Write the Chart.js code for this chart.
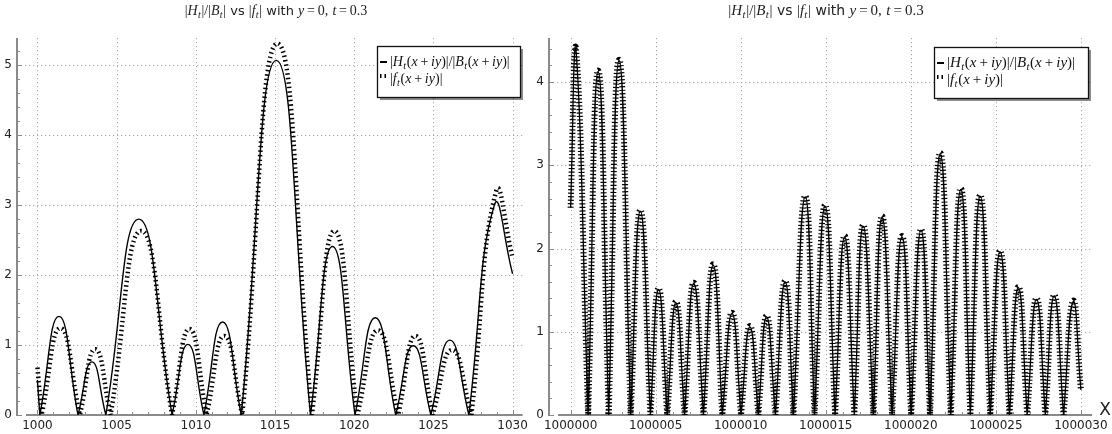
<!DOCTYPE html>
<html>
<head>
<meta charset="utf-8">
<script src="https://cdn.jsdelivr.net/npm/chart.js@4.4.1/dist/chart.umd.min.js"></script>
<style>
  html, body { margin: 0; padding: 0; background: #fff; }
  #wrap { position: relative; width: 1112px; height: 434px; background: #fff; overflow: hidden; }
  .pane { position: absolute; top: 0; height: 434px; }
</style>
</head>
<body>
<div id="wrap">
  <div class="pane" style="left:0;width:532px"><canvas id="c1"></canvas></div>
  <div class="pane" style="left:532px;width:580px"><canvas id="c2"></canvas></div>
</div>
<script>
// ---------- data ----------
// Left panel: x = 1000 .. 1030 (zeros are value 0)
const leftXH = [1000.0, 1000.15, 1001.36, 1002.56, 1003.44, 1004.32, 1006.40, 1008.50, 1009.50, 1010.51, 1011.69, 1012.87, 1015.08, 1017.24, 1018.63, 1020.05, 1021.33, 1022.62, 1023.73, 1024.84, 1026.04, 1027.24, 1028.85, 1030.0];
const leftH  = [0.50, 0, 1.41, 0, 0.76, 0, 2.80, 0, 1.01, 0, 1.33, 0, 5.07, 0, 2.41, 0, 1.39, 0, 0.99, 0, 1.07, 0, 3.00, 2.02];
const leftXF = [1000.0, 1000.26, 1001.45, 1002.68, 1003.65, 1004.62, 1006.55, 1008.50, 1009.60, 1010.68, 1011.80, 1012.93, 1015.15, 1017.33, 1018.75, 1020.20, 1021.50, 1022.78, 1023.87, 1024.95, 1026.18, 1027.40, 1028.95, 1030.0];
const leftF  = [0.68, 0, 1.24, 0, 0.94, 0, 2.63, 0, 1.23, 0, 1.13, 0, 5.31, 0, 2.63, 0, 1.21, 0, 1.13, 0, 0.93, 0, 3.19, 2.25];

// Right panel: x = 1000000 .. 1000030
const rightX = [1000000.0, 1000000.31, 1000001.03, 1000001.62, 1000002.24, 1000002.85, 1000003.53, 1000004.10, 1000004.69, 1000005.17, 1000005.68, 1000006.19, 1000006.70, 1000007.24, 1000007.81, 1000008.38, 1000008.92, 1000009.49, 1000010.02, 1000010.54, 1000011.04, 1000011.52, 1000012.04, 1000012.61, 1000013.10, 1000013.79, 1000014.34, 1000014.96, 1000015.55, 1000016.11, 1000016.68, 1000017.20, 1000017.80, 1000018.31, 1000018.90, 1000019.48, 1000020.02, 1000020.60, 1000021.13, 1000021.73, 1000022.35, 1000022.94, 1000023.50, 1000024.08, 1000024.67, 1000025.25, 1000025.80, 1000026.32, 1000026.84, 1000027.39, 1000027.91, 1000028.43, 1000028.98, 1000029.54, 1000030.0];
const rightH = [2.49, 4.40, 0, 4.13, 0, 4.26, 0, 2.45, 0, 1.51, 0, 1.35, 0, 1.58, 0, 1.80, 0, 1.22, 0, 1.06, 0, 1.18, 0, 1.60, 0, 2.62, 0, 2.51, 0, 2.14, 0, 2.27, 0, 2.38, 0, 2.14, 0, 2.22, 0, 3.14, 0, 2.71, 0, 2.63, 0, 1.96, 0, 1.53, 0, 1.39, 0, 1.43, 0, 1.36, 0.30];
const rightF = [2.49, 4.42, 0, 4.14, 0, 4.27, 0, 2.46, 0, 1.52, 0, 1.36, 0, 1.59, 0, 1.81, 0, 1.23, 0, 1.07, 0, 1.19, 0, 1.61, 0, 2.63, 0, 2.52, 0, 2.15, 0, 2.28, 0, 2.39, 0, 2.15, 0, 2.23, 0, 3.15, 0, 2.72, 0, 2.64, 0, 1.97, 0, 1.54, 0, 1.40, 0, 1.44, 0, 1.37, 0.30];

// Tick labels
const leftXTicks  = [1000, 1005, 1010, 1015, 1020, 1025, 1030];
const leftYTicks  = [0, 1, 2, 3, 4, 5];
const rightXTicks = [1000000, 1000005, 1000010, 1000015, 1000020, 1000025, 1000030];
const rightYTicks = [0, 1, 2, 3, 4];

const titleText = '$|H_t|/|B_t|$ vs $|f_t|$ with $y\u2009=\u20090,$ $t\u2009=\u20090.3$';
const legendH = '$|H_t(x\u2009+\u2009iy)|/|B_t(x\u2009+\u2009iy)|$';
const legendF = '$|f_t(x\u2009+\u2009iy)|$';

// ---------- helpers ----------
function pts(xs, ys) {
  const out = [];
  xs.forEach((x, i) => {
    out.push({ x: x, y: ys[i] });
    if (ys[i] === 0) out.push({ x: x, y: 0 }); // repeat zero so the curve keeps its sharp V there
  });
  return out;
}

function parseRich(str) {
  const runs = [];
  let math = false;
  const push = (t, s) => {
    const last = runs[runs.length - 1];
    if (last && last.s === s && s !== 'sub') last.t += t; else runs.push({ t, s });
  };
  for (let i = 0; i < str.length; i++) {
    const c = str[i];
    if (c === '$') { math = !math; continue; }
    if (!math) { push(c, 'sans'); continue; }
    if (c === '_') { push(str[++i], 'sub'); continue; }
    if (/[A-Za-z]/.test(c)) push(c, 'it'); else push(c, 'up');
  }
  return runs;
}
function fontFor(s, size) {
  if (s === 'sans') return (size * 0.93) + 'px "DejaVu Sans"';
  if (s === 'it') return 'italic ' + size + 'px "Liberation Serif"';
  if (s === 'sub') return 'italic ' + (size * 0.72) + 'px "Liberation Serif"';
  return size + 'px "Liberation Serif"';
}
function drawRich(ctx, str, x, y, size, align) {
  const runs = parseRich(str);
  let w = 0;
  runs.forEach(r => {
    ctx.font = fontFor(r.s, size);
    r.w = ctx.measureText(r.t).width + (r.s === 'sub' ? 1 : 0);
    w += r.w;
  });
  let cx = align === 'center' ? x - w / 2 : x;
  ctx.textBaseline = 'alphabetic';
  ctx.textAlign = 'left';
  runs.forEach(r => {
    ctx.font = fontFor(r.s, size);
    ctx.fillText(r.t, cx + (r.s === 'sub' ? 0.3 : 0), y + (r.s === 'sub' ? size * 0.2 : 0));
    cx += r.w;
  });
  return w;
}

function makeChart(id, cfg) {
  const plugin = {
    id: 'sageDecor',
    beforeDatasetsDraw(chart) {
      const { ctx, chartArea: a, scales: { x, y } } = chart;
      const line = (x1, y1, x2, y2) => { ctx.beginPath(); ctx.moveTo(x1, y1); ctx.lineTo(x2, y2); ctx.stroke(); };
      ctx.save();
      // dotted grid
      ctx.strokeStyle = '#a8a8a8'; ctx.lineWidth = 1; ctx.setLineDash([1.2, 2.8]);
      cfg.xTicks.forEach(v => { const p = Math.round(x.getPixelForValue(v)) + 0.5; line(p, a.top, p, a.bottom); });
      cfg.yTicks.forEach(v => { if (v === 0) return; const p = Math.round(y.getPixelForValue(v)) + 0.5; line(a.left, p, a.right, p); });
      ctx.setLineDash([]);
      // axes
      ctx.strokeStyle = '#8a8a8a'; ctx.lineWidth = 2;
      line(a.left, a.top, a.left, a.bottom + 1);
      line(a.left + 9, a.bottom, a.right, a.bottom);
      // inward ticks
      ctx.lineWidth = 1; ctx.strokeStyle = '#8a8a8a';
      const x0 = cfg.xTicks[0], x1 = cfg.xTicks[cfg.xTicks.length - 1];
      for (let v = x0; v <= x1; v += 1) {
        const p = Math.round(x.getPixelForValue(v)) + 0.5;
        const len = ((v - x0) % 5 === 0) ? 5 : 3;
        line(p, a.bottom, p, a.bottom - len);
      }
      for (let k = 0; k * 0.2 <= y.max + 1e-9; k++) {
        const p = Math.round(y.getPixelForValue(k * 0.2)) + 0.5;
        const len = (k % 5 === 0) ? 5 : 3;
        line(a.left, p, a.left + len, p);
      }
      ctx.restore();
    },
    afterDraw(chart) {
      const { ctx } = chart;
      ctx.save();
      // title
      ctx.fillStyle = '#222';
      drawRich(ctx, titleText, cfg.titleX, 15, cfg.titleSize, 'center');
      // legend box
      const L = cfg.legend;
      ctx.fillStyle = 'rgba(0,0,0,0.45)';
      ctx.fillRect(L.x + 3, L.y + 3, L.w, L.h);
      ctx.fillStyle = '#fff';
      ctx.fillRect(L.x, L.y, L.w, L.h);
      ctx.strokeStyle = '#111'; ctx.lineWidth = 1.3;
      ctx.strokeRect(L.x + 0.5, L.y + 0.5, L.w, L.h);
      // samples
      ctx.strokeStyle = '#000';
      ctx.lineWidth = 2; ctx.setLineDash([]);
      ctx.beginPath(); ctx.moveTo(L.x + 3, L.r1 - 4); ctx.lineTo(L.x + 10, L.r1 - 4); ctx.stroke();
      ctx.lineWidth = 4; ctx.setLineDash([1.5, 3]); ctx.lineCap = 'butt';
      ctx.beginPath(); ctx.moveTo(L.x + 3, L.r2 - 7); ctx.lineTo(L.x + 10, L.r2 - 7); ctx.stroke();
      ctx.setLineDash([]);
      ctx.fillStyle = '#111';
      drawRich(ctx, legendH, L.x + 13, L.r1, cfg.legendSize, 'left');
      drawRich(ctx, legendF, L.x + 13, L.r2, cfg.legendSize, 'left');
      // axis letter
      if (cfg.xLetter) {
        ctx.font = '17px "DejaVu Sans"'; ctx.fillStyle = '#222';
        ctx.textAlign = 'center'; ctx.textBaseline = 'middle';
        ctx.fillText(cfg.xLetter.t, cfg.xLetter.x, cfg.xLetter.y);
      }
      ctx.restore();
    }
  };

  return new Chart(document.getElementById(id), {
    type: 'line',
    data: {
      datasets: [
        { label: 'H/B', data: pts(cfg.xH, cfg.H), borderColor: '#000', borderWidth: cfg.solidW,
          pointRadius: 0, fill: false, tension: 0.5 },
        { label: 'f', data: pts(cfg.xF, cfg.F), borderColor: '#000', borderWidth: cfg.dotW,
          borderDash: cfg.dotDash, borderCapStyle: 'butt', pointRadius: 0, fill: false, tension: 0.5 }
      ]
    },
    options: {
      responsive: true, maintainAspectRatio: false, animation: false, devicePixelRatio: 1,
      layout: { padding: { top: 38, right: cfg.padRight, left: 0, bottom: 0 } },
      plugins: { legend: { display: false }, title: { display: false }, tooltip: { enabled: false } },
      scales: {
        x: {
          type: 'linear', min: cfg.xMin, max: cfg.xMax,
          grid: { display: false, drawTicks: false }, border: { display: false },
          afterBuildTicks: s => { s.ticks = cfg.xTicks.map(v => ({ value: v })); },
          afterFit: s => { s.height = 19; },
          ticks: { autoSkip: false, maxRotation: 0, padding: 4, color: '#222',
                   font: { family: 'DejaVu Sans', size: cfg.tickSize }, callback: v => String(v) }
        },
        y: {
          type: 'linear', min: 0, max: cfg.yMax,
          grid: { display: false, drawTicks: false }, border: { display: false },
          afterBuildTicks: s => { s.ticks = cfg.yTicks.map(v => ({ value: v })); },
          afterFit: s => { s.width = 17; },
          ticks: { padding: 5, color: '#222', font: { family: 'DejaVu Sans', size: cfg.tickSize },
                   callback: v => String(v) }
        }
      }
    },
    plugins: [plugin]
  });
}

makeChart('c1', {
  xH: leftXH, H: leftH, xF: leftXF, F: leftF,
  xTicks: leftXTicks, yTicks: leftYTicks,
  xMin: 998.71, xMax: 1030.63, yMax: 5.39, padRight: 7,
  solidW: 1.4, dotW: 4.5, dotDash: [1.5, 3],
  tickSize: 12, titleX: 276, titleSize: 14,
  legend: { x: 377, y: 46, w: 143, h: 51, r1: 66, r2: 83 }, legendSize: 14
});
makeChart('c2', {
  xH: rightX, H: rightH, xF: rightX, F: rightF,
  xTicks: rightXTicks, yTicks: rightYTicks,
  xMin: 999998.73, xMax: 1000030.66, yMax: 4.53, padRight: 18,
  solidW: 1.3, dotW: 6, dotDash: [1.2, 2.3],
  tickSize: 12, titleX: 294, titleSize: 15,
  legend: { x: 402, y: 47, w: 154, h: 51, r1: 67, r2: 84 }, legendSize: 15,
  xLetter: { t: 'X', x: 573, y: 411 }
});
</script>
</body>
</html>
